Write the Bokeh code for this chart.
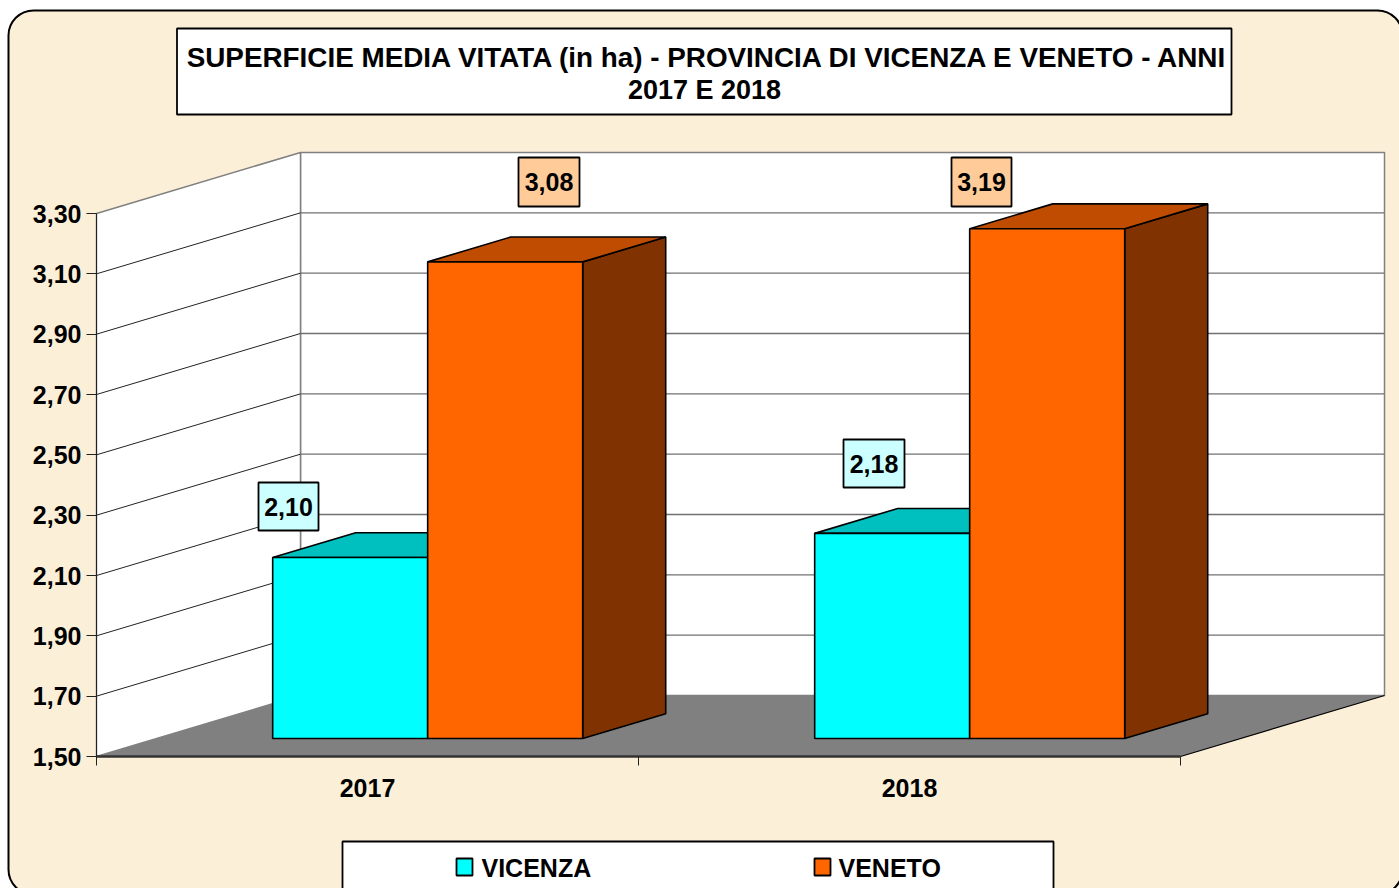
from bokeh.embed import file_html
from bokeh.resources import INLINE
from bokeh.plotting import figure
from bokeh.core.properties import value
from bokeh.models import BoxAnnotation, FixedTicker, LinearAxis, Range1d

# ---- data
categories = ["2017", "2018"]
vicenza = [2.10, 2.18]
veneto = [3.08, 3.19]
vicenza_labels = ["2,10", "2,18"]
veneto_labels = ["3,08", "3,19"]
y_ticks = [1.5, 1.7, 1.9, 2.1, 2.3, 2.5, 2.7, 2.9, 3.1, 3.3]
y_tick_labels = ["1,50", "1,70", "1,90", "2,10", "2,30", "2,50", "2,70", "2,90", "3,10", "3,30"]
title_lines = ["SUPERFICIE MEDIA VITATA (in ha) - PROVINCIA DI VICENZA E VENETO - ANNI", "2017 E 2018"]
series_names = ["VICENZA", "VENETO"]

# ---- layout (picture pixels)
W, H = 1399, 888
X0, PX_X = 96, 542.0      # x of category 0, pixels per category
Y0, PX_Y = 756, 543 / 1.8 # y of value 1.5, pixels per value unit
FONT = value("Liberation Sans")
FS = "25px"

def sx(px):  # picture pixel -> data x
    return (px - X0) / PX_X

def sy(py):  # picture pixel -> data y
    return 1.5 + (Y0 - py) / PX_Y

DX = 204 / PX_X
DY = 61 / PX_Y

def proj(x, y, d):
    return x + d * DX, y + d * DY

p = figure(width=W, height=H, output_backend="svg", toolbar_location=None,
           x_range=Range1d(sx(0), sx(W)), y_range=Range1d(sy(H), sy(0)),
           min_border=0, x_axis_type=None, y_axis_type=None)
p.outline_line_color = None
p.xgrid.visible = False
p.ygrid.visible = False
p.background_fill_color = "white"
p.border_fill_color = "white"

# rounded chart area
p.add_layout(BoxAnnotation(left=sx(8), right=sx(1402), top=sy(10), bottom=sy(894),
                           border_radius=25, fill_color="#FBEFD7", fill_alpha=1,
                           line_color="black", line_alpha=1, line_width=2, level="underlay"))

# walls and floor
n_cat = len(categories)
y_lo, y_hi = y_ticks[0], y_ticks[-1]

def face(points):
    xs, ys = zip(*points)
    return list(xs), list(ys)

bx, by = face([proj(0, y_lo, 1), proj(n_cat, y_lo, 1), proj(n_cat, y_hi, 1), proj(0, y_hi, 1)])
p.patch(bx, by, fill_color="white", line_color="#808080", line_width=1.5)
sx_, sy_ = face([proj(0, y_lo, 0), proj(0, y_lo, 1), proj(0, y_hi, 1), proj(0, y_hi, 0)])
p.patch(sx_, sy_, fill_color="white", line_color="#808080", line_width=1.5)
fx, fy = face([proj(0, y_lo, 0), proj(n_cat, y_lo, 0), proj(n_cat, y_lo, 1), proj(0, y_lo, 1)])
p.patch(fx, fy, fill_color="#808080", line_color=None)
ex, ey = face([proj(n_cat, y_lo, 0), proj(n_cat, y_lo, 1)])
p.line(ex, ey, line_color="black", line_width=1.2)

# gridlines
for t in y_ticks[1:-1]:
    a = proj(0, t, 0)
    b = proj(0, t, 1)
    c = proj(n_cat, t, 1)
    p.line([a[0], b[0]], [a[1], b[1]], line_color="#222222", line_width=1)
    p.line([b[0], c[0]], [b[1], c[1]], line_color="#707070", line_width=1.3)

# 3D bars
BAR_W = 155 / PX_X
D_FRONT, D_BACK = 0.295, 0.702
colours = [("#00FFFF", "#00BFBF", "#008080"), ("#FF6600", "#BF4C00", "#803300")]

def bar(x0, v, cols):
    x1 = x0 + BAR_W
    front, top, side = cols
    for pts, col in [
        ([proj(x1, y_lo, D_FRONT), proj(x1, y_lo, D_BACK), proj(x1, v, D_BACK), proj(x1, v, D_FRONT)], side),
        ([proj(x0, v, D_FRONT), proj(x1, v, D_FRONT), proj(x1, v, D_BACK), proj(x0, v, D_BACK)], top),
        ([proj(x0, y_lo, D_FRONT), proj(x1, y_lo, D_FRONT), proj(x1, v, D_FRONT), proj(x0, v, D_FRONT)], front),
    ]:
        xs, ys = face(pts)
        p.patch(xs, ys, fill_color=col, line_color="black", line_width=1.6)

for i in range(n_cat):
    bar(i + 0.5 - BAR_W, vicenza[i], colours[0])
    bar(i + 0.5, veneto[i], colours[1])

def box(left, right, top, bottom, fill, lw=1.8):
    p.quad(left=sx(left), right=sx(right), top=sy(top), bottom=sy(bottom),
           fill_color=fill, line_color="black", line_width=lw)

def label(txt, x, y, align="center", size=FS):
    p.text(x=[sx(x)], y=[sy(y)], text=[txt], text_font=FONT, text_font_style="bold",
           text_font_size=size, text_color="black", text_align=align, text_baseline="middle")

# data labels (boxes as placed in the picture)
label_boxes = [
    (258, 318, 482, 530, "#CCFFFF", vicenza_labels[0]),
    (843, 904, 439, 487, "#CCFFFF", vicenza_labels[1]),
    (518, 579, 157, 206, "#FFCC99", veneto_labels[0]),
    (951, 1011, 157, 206, "#FFCC99", veneto_labels[1]),
]
for l, r, t, b, f, txt in label_boxes:
    box(l, r, t, b, f)
    label(txt, (l + r) / 2, (t + b) / 2)

# title
box(176.5, 1231, 28, 114, "white")
label(title_lines[0], 708, 56.5, size="27.85px")
label(title_lines[1], 704, 89.5, size="27px")

# legend
box(342, 1053, 841, 900, "white")
box(456, 472, 858, 875, colours[0][0])
box(814, 830, 858, 875, colours[1][0])
label(series_names[0], 481, 867.5, align="left")
label(series_names[1], 838, 867.5, align="left")

# axes
yaxis = LinearAxis(fixed_location=0, ticker=FixedTicker(ticks=y_ticks), bounds=(y_lo, y_hi),
                   major_label_overrides=dict(zip(y_ticks, y_tick_labels)),
                   major_label_text_font="Liberation Sans", major_label_text_font_style="bold",
                   major_label_text_font_size=FS, major_label_text_color="black",
                   major_tick_in=0, major_tick_out=10, major_label_standoff=5,
                   minor_tick_line_color=None, axis_line_color="#222222", major_tick_line_color="#222222")
p.add_layout(yaxis, "left")

xaxis = LinearAxis(fixed_location=y_lo, ticker=FixedTicker(ticks=[0, 1, 2]), bounds=(0, n_cat),
                   major_label_overrides={0: "", 1: "", 2: ""},
                   major_tick_in=0, major_tick_out=9, minor_tick_line_color=None,
                   axis_line_color="#333333", axis_line_width=2.5, major_tick_line_color="#222222")
p.add_layout(xaxis, "below")

cat_axis = LinearAxis(fixed_location=y_lo, ticker=FixedTicker(ticks=[i + 0.5 for i in range(n_cat)]),
                      major_label_overrides={i + 0.5: c for i, c in enumerate(categories)},
                      major_label_text_font="Liberation Sans", major_label_text_font_style="bold",
                      major_label_text_font_size=FS, major_label_text_color="black",
                      major_tick_line_color=None, minor_tick_line_color=None, axis_line_color=None,
                      major_tick_in=0, major_tick_out=0, major_label_standoff=22)
p.add_layout(cat_axis, "below")

html = file_html(p, INLINE)
open("out.html", "w").write(html)
